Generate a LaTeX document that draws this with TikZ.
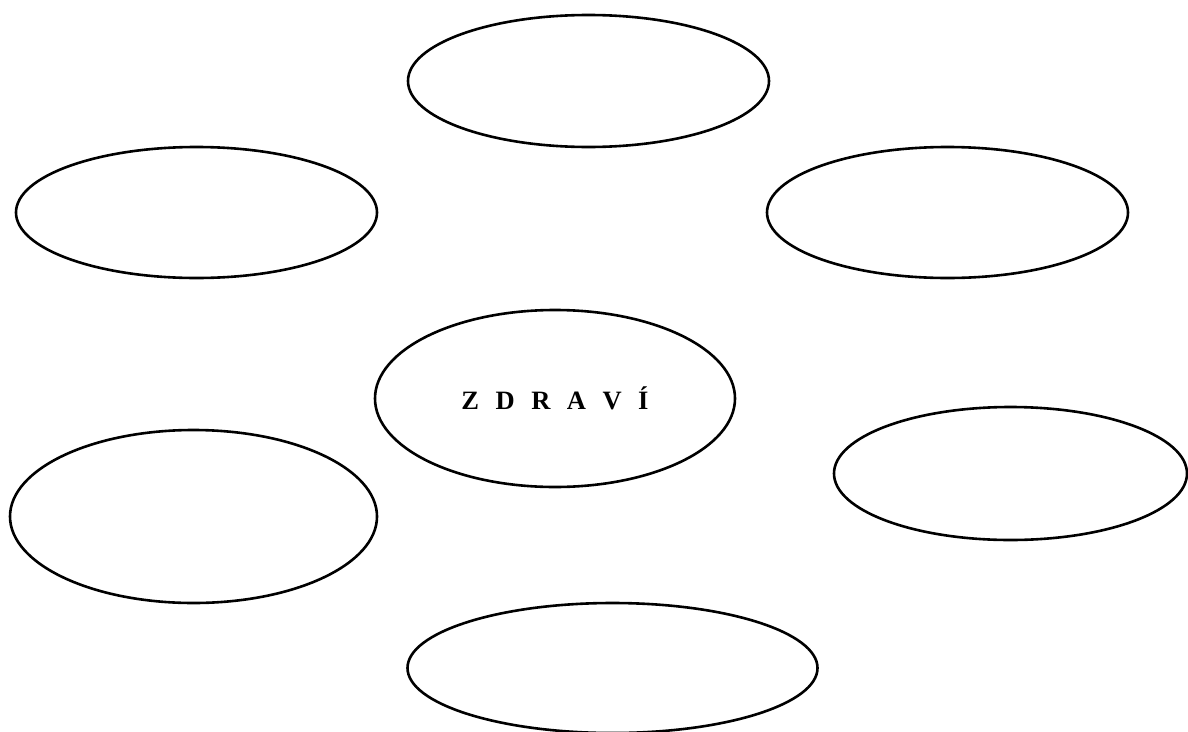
\documentclass[tikz,border=0pt]{standalone}
\usepackage{fontspec}
\setmainfont{Liberation Serif}
\usetikzlibrary{shapes.geometric}
\newcommand{\lettergap}{\hspace{16.5pt}}
\begin{document}
\begin{tikzpicture}[x=1pt,y=-1pt,
  bubble/.style={ellipse,draw=black,line width=2.6pt,inner sep=0pt},
  label/.style={font=\fontsize{26.5}{30}\selectfont\bfseries,inner sep=0pt}]
\clip (0,0) rectangle (1188,731);
\useasboundingbox (0,0) rectangle (1188,731);
\node[bubble,minimum width=361pt,minimum height=132pt] (top) at (588.5,81) {};
\node[bubble,minimum width=361pt,minimum height=131pt] (lu) at (196.5,212.5) {};
\node[bubble,minimum width=361pt,minimum height=131pt] (ru) at (947.5,212.5) {};
\node[bubble,minimum width=360pt,minimum height=177pt] (c) at (555,398.5) {};
\node[label] (t) at (555,398) {Z\lettergap D\lettergap R\lettergap A\lettergap V\lettergap Í};
\node[bubble,minimum width=353pt,minimum height=133pt] (rl) at (1010.5,473.5) {};
\node[bubble,minimum width=367pt,minimum height=173pt] (ll) at (193.5,516.5) {};
\node[bubble,minimum width=410pt,minimum height=130pt] (bot) at (612.5,668) {};
\end{tikzpicture}
\end{document}
